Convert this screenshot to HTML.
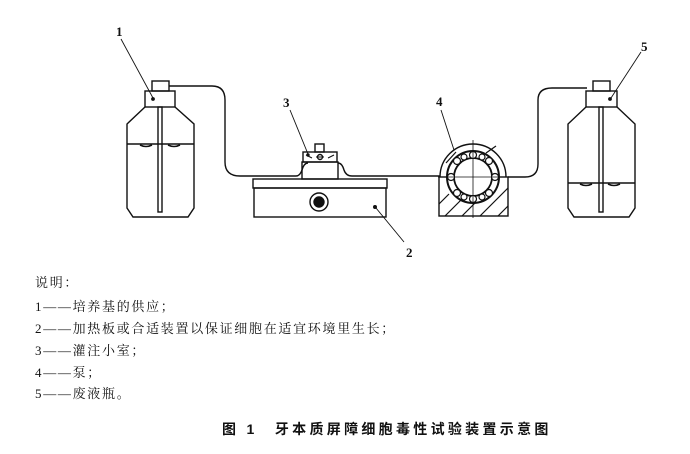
<!DOCTYPE html>
<html><head><meta charset="utf-8"><style>
body{margin:0;background:#fff;width:690px;height:454px;overflow:hidden;position:relative;font-family:"Liberation Serif","Noto Serif CJK SC","Noto Sans CJK SC",serif;}
.t{position:absolute;left:35px;font-size:13px;letter-spacing:1.7px;color:#111;white-space:nowrap;line-height:16px;}
.ti{position:absolute;left:222px;top:419px;font-size:14px;font-weight:bold;letter-spacing:3.3px;color:#111;white-space:nowrap;font-family:"Liberation Sans","Noto Sans CJK SC",sans-serif;}
svg{position:absolute;left:0;top:0;}
</style></head><body>
<svg width="690" height="270" viewBox="0 0 690 270" fill="none" stroke="#111" stroke-width="1.4">
<rect x="152" y="81" width="17" height="10"/>
<rect x="145" y="91" width="30" height="16"/>
<path d="M145 107 L127 124 L127 208 L133 217 L188 217 L194 208 L194 124 L175 107"/>
<line x1="127" y1="144" x2="194" y2="144"/>
<path d="M140 145 q6 3 12 0 M168 145 q6 3 12 0" stroke-width="1.6"/>
<rect x="158" y="107" width="4" height="105"/>
<circle cx="153" cy="99" r="1.2" fill="#111"/>
<path d="M169 86 L212 86 Q225 86 225 100 L225 162 Q225 176 240 176 L296 176 Q300 176 302 170 Q304 163 308 163"/>
<path d="M338 163 Q342 163 344 170 Q346 176 352 176 L440 176"/>
<rect x="253" y="179" width="134" height="9"/>
<rect x="254" y="188" width="132" height="29"/>
<circle cx="319" cy="202" r="9"/>
<circle cx="319" cy="202" r="5" fill="#111"/>
<circle cx="375" cy="207" r="1.3" fill="#111"/>
<rect x="302" y="162" width="36" height="17"/>
<rect x="303" y="152" width="34" height="10"/>
<rect x="315" y="144" width="9" height="8"/>
<path d="M306 155 l6 3 M334 155 l-6 3 M316 157 l8 0" stroke-width="1"/>
<circle cx="320" cy="157" r="2.5"/>
<circle cx="308" cy="155" r="1" fill="#111"/>
<path d="M440 177 A33 33 0 0 1 506 177"/>
<rect x="439" y="177" width="69" height="39"/>
<g stroke-width="1.2">
<line x1="445" y1="216" x2="470" y2="191"/><line x1="462" y1="216" x2="490" y2="188"/><line x1="480" y1="216" x2="508" y2="188"/><line x1="498" y1="216" x2="508" y2="206"/><line x1="439" y1="204" x2="449" y2="194"/>
<line x1="446" y1="163" x2="456" y2="152"/><line x1="486" y1="153" x2="496" y2="146"/>
</g>
<circle cx="473" cy="177" r="26" fill="#fff" stroke-width="2"/>
<circle cx="473" cy="177" r="19" stroke-width="1.8"/>
<g stroke-width="1.2">
<circle cx="473" cy="155" r="3.5" fill="#fff"/><circle cx="473" cy="199" r="3.5" fill="#fff"/>
<circle cx="451" cy="177" r="3.5" fill="#fff"/><circle cx="495" cy="177" r="3.5" fill="#fff"/>
<circle cx="457" cy="161" r="3.5" fill="#fff"/><circle cx="489" cy="161" r="3.5" fill="#fff"/>
<circle cx="457" cy="193" r="3.5" fill="#fff"/><circle cx="489" cy="193" r="3.5" fill="#fff"/>
<circle cx="464" cy="157" r="3" fill="#fff"/><circle cx="482" cy="157" r="3" fill="#fff"/>
<circle cx="464" cy="197" r="3" fill="#fff"/><circle cx="482" cy="197" r="3" fill="#fff"/>
</g>
<line x1="473" y1="140" x2="473" y2="218" stroke-width="0.8"/>
<line x1="438" y1="177" x2="508" y2="177" stroke-width="0.8"/>
<path d="M508 177 L525 177 Q538 177 538 164 L538 100 Q538 88 552 88 L587 88"/>
<rect x="593" y="81" width="17" height="10"/>
<rect x="586" y="91" width="31" height="16"/>
<path d="M586 107 L568 124 L568 208 L574 217 L629 217 L635 208 L635 124 L617 107"/>
<line x1="568" y1="183" x2="635" y2="183"/>
<path d="M580 184 q6 3 12 0 M608 184 q6 3 12 0" stroke-width="1.6"/>
<rect x="599" y="107" width="4" height="105"/>
<circle cx="610" cy="99" r="1.2" fill="#111"/>
<g stroke-width="0.9">
<line x1="121" y1="39" x2="153" y2="98"/>
<line x1="290" y1="110" x2="308" y2="154"/>
<line x1="441" y1="110" x2="454" y2="150"/>
<line x1="641" y1="52" x2="611" y2="98"/>
<line x1="376" y1="208" x2="404" y2="242"/>
</g>
<g fill="#111" stroke="none" font-family="Liberation Serif,serif" font-size="13" font-weight="bold">
<text x="116" y="36">1</text><text x="283" y="107">3</text><text x="436" y="106">4</text><text x="641" y="51">5</text><text x="406" y="257">2</text>
</g>
</svg>
<div class="t" style="top:275px">说明：</div>
<div class="t" style="top:299px">1——培养基的供应；</div>
<div class="t" style="top:321px">2——加热板或合适装置以保证细胞在适宜环境里生长；</div>
<div class="t" style="top:343px">3——灌注小室；</div>
<div class="t" style="top:365px">4——泵；</div>
<div class="t" style="top:386px">5——废液瓶。</div>
<div class="ti">图 1　牙本质屏障细胞毒性试验装置示意图</div>
</body></html>
